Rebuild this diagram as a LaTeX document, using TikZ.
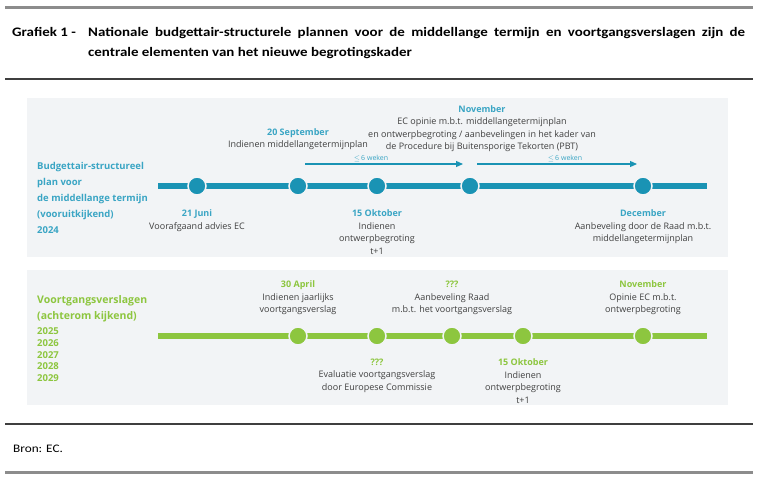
\documentclass[tikz,border=0pt]{standalone}
\usepackage{fontspec}
\setmainfont{Open Sans}
\newfontfamily\titlefont[FakeStretch=1.15]{Carlito}
\usepackage{xcolor}
\usetikzlibrary{positioning,arrows.meta}
\definecolor{tealbar}{HTML}{1A93B4}
\definecolor{tealhead}{HTML}{3AA5C4}
\definecolor{greenbar}{HTML}{8DC63F}
\definecolor{greenhead}{HTML}{8DC63F}
\definecolor{panelbg}{HTML}{F2F4F6}
\definecolor{rulegray}{HTML}{8C8C8C}
\definecolor{ruledark}{HTML}{3F3F3F}
\definecolor{bodytext}{HTML}{404040}
\newcommand{\tealhd}[1]{\textcolor{tealhead}{\bfseries #1}}
\newcommand{\greenhd}[1]{\textcolor{greenhead}{\bfseries #1}}

\begin{document}
\begin{tikzpicture}[x=1pt, y=-1pt,
    tdot/.style={circle, fill=tealbar, draw=panelbg, line width=1.5pt, minimum size=18pt, inner sep=0pt},
    gdot/.style={tdot, fill=greenbar},
    evt/.style={align=center, inner sep=0pt, text=bodytext, font=\fontsize{9}{12.5}\selectfont},
    wk/.style={inner sep=0pt, text=tealhead, font=\fontsize{7}{8}\selectfont},
    wkarrow/.style={-{Triangle[length=7pt,width=6pt]}, tealbar, line width=1.2pt},
    sidelbl/.style={align=left, inner sep=0pt, anchor=north west, font=\fontsize{9.5}{16}\selectfont\bfseries}]
    \useasboundingbox (0,0) rectangle (760,480);
    \fill[white] (0,0) rectangle (760,480);
    \draw[rulegray, line width=3pt] (5,7) -- (753,7);
    \draw[ruledark, line width=1.2pt] (5,79) -- (753,79);
    \draw[ruledark, line width=1.2pt] (5,424) -- (753,424);
    \draw[rulegray, line width=3pt] (5,472) -- (753,472);
    \node [anchor=north west, inner sep=0pt, font=\titlefont\fontsize{13}{20}\selectfont\bfseries] (fignr) at (12,27) {Grafiek 1 -};
    \node [anchor=north west, inner sep=0pt, text width=657pt, align=justify, font=\titlefont\fontsize{13}{20}\selectfont\bfseries] (figtitle) at (88,27)
        {Nationale budgettair-structurele plannen voor de middellange termijn en voortgangsverslagen zijn de\linebreak centrale elementen van het nieuwe begrotingskader};
    \node [anchor=west, inner sep=0pt, font=\titlefont\fontsize{11.5}{12}\selectfont] (source) at (13,449) {Bron: EC.};

    \fill[panelbg] (27,98) rectangle (728,257);
    \fill[panelbg] (27,270) rectangle (728,405);

    \node [sidelbl, text=tealhead] (bsplan) at (37,162) {Budgettair-structureel\\plan voor\\de middellange termijn\\(vooruitkijkend)\\2024};
    \coordinate (tl) at (158,186);
    \coordinate (tr) at (707,186);
    \draw[tealbar, line width=6pt] (tl) -- (tr);
    \node [tdot] (c1) at (197,186) {};
    \node [tdot] (c2) at (298,186) {};
    \node [tdot] (c3) at (377,186) {};
    \node [tdot] (c4) at (470,186) {};
    \node [tdot] (c5) at (643,186) {};
    \node [evt, below=14pt of c1] (juni) {\tealhd{21 Juni}\\Voorafgaand advies EC};
    \node [evt, above=26pt of c2] (sept) {\tealhd{20 September}\\Indienen middellangetermijnplan};
    \node [evt, above=24pt of c4, xshift=12pt] (nov) {\tealhd{November}\\EC opinie m.b.t. middellangetermijnplan\\en ontwerpbegroting / aanbevelingen in het kader van\\de Procedure bij Buitensporige Tekorten (PBT)};
    \node [evt, below=14pt of c3] (okt) {\tealhd{15 Oktober}\\Indienen\\ontwerpbegroting\\t+1};
    \node [evt, below=14pt of c5] (dec) {\tealhd{December}\\Aanbeveling door de Raad m.b.t.\\middellangetermijnplan};
    \coordinate (w1s) at (305,164);
    \coordinate (w1e) at (463,164);
    \coordinate (w2s) at (477,164);
    \coordinate (w2e) at (637,164);
    \draw[wkarrow] (w1s) -- (w1e);
    \draw[wkarrow] (w2s) -- (w2e);
    \node [wk] (wk1) at (371,158) {$\le$\,6 weken};
    \node [wk] (wk2) at (565,158) {$\le$\,6 weken};

    \node [sidelbl, text=greenhead, font=\fontsize{10.5}{16}\selectfont\bfseries] (vgtitle) at (37,295) {Voortgangsverslagen\\(achterom kijkend)};
    \node [sidelbl, text=greenhead, font=\fontsize{9.5}{11.6}\selectfont\bfseries, below=6pt of vgtitle.south west, anchor=north west] (vgyears) {2025\\2026\\2027\\2028\\2029};
    \coordinate (gl) at (158,336);
    \coordinate (gr) at (707,336);
    \draw[greenbar, line width=6pt] (gl) -- (gr);
    \node [gdot] (g1) at (298,336) {};
    \node [gdot] (g2) at (377,336) {};
    \node [gdot] (g3) at (452,336) {};
    \node [gdot] (g4) at (523,336) {};
    \node [gdot] (g5) at (643,336) {};
    \node [evt, above=11pt of g1] (april) {\greenhd{30 April}\\Indienen jaarlijks\\voortgangsverslag};
    \node [evt, below=13pt of g2] (evalec) {\greenhd{???}\\Evaluatie voortgangsverslag\\door Europese Commissie};
    \node [evt, above=11pt of g3] (raad) {\greenhd{???}\\Aanbeveling Raad\\m.b.t. het voortgangsverslag};
    \node [evt, below=13pt of g4] (okt2) {\greenhd{15 Oktober}\\Indienen\\ontwerpbegroting\\t+1};
    \node [evt, above=11pt of g5] (nov2) {\greenhd{November}\\Opinie EC m.b.t.\\ontwerpbegroting};
\end{tikzpicture}
\end{document}
